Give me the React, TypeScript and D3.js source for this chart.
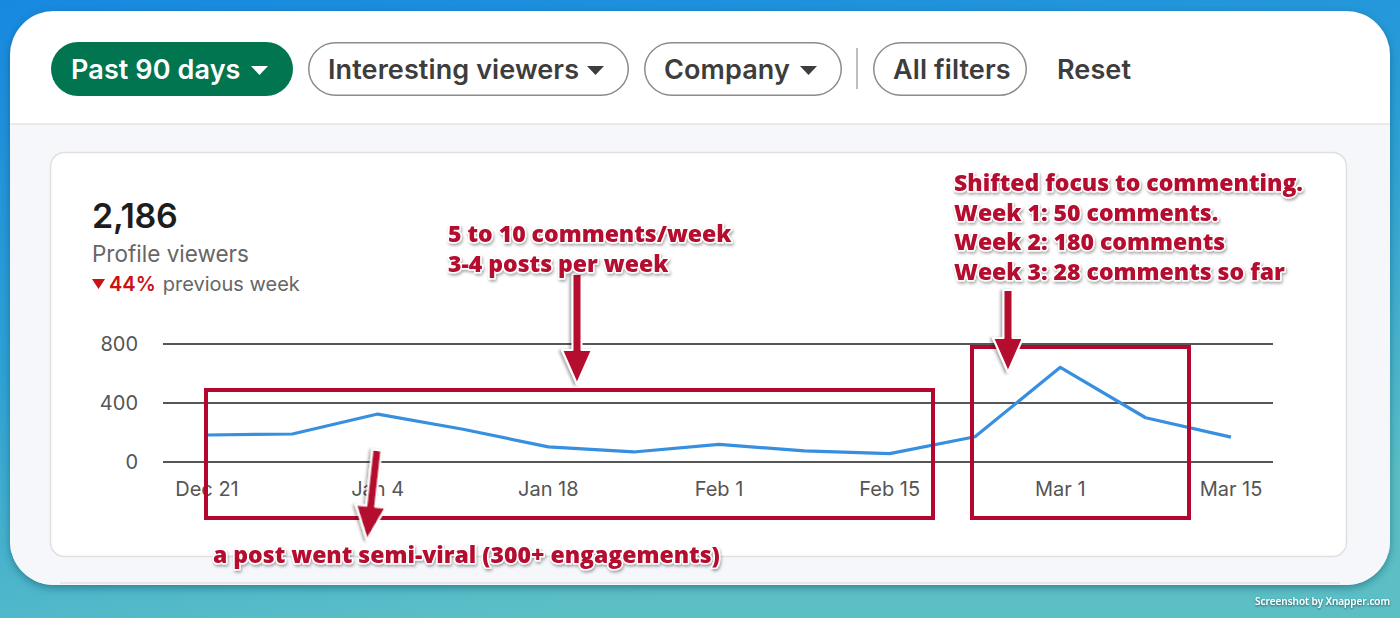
import * as d3 from "d3"

const dates = [
  "2022-12-21", "2022-12-28", "2023-01-04", "2023-01-11", "2023-01-18", "2023-01-25", "2023-02-01",
  "2023-02-08", "2023-02-15", "2023-02-22", "2023-03-01", "2023-03-08", "2023-03-15",
]
const viewers = [183, 190, 325, 222, 103, 68, 119, 75, 57, 171, 642, 300, 169]
const tickDates = ["2022-12-21", "2023-01-04", "2023-01-18", "2023-02-01", "2023-02-15", "2023-03-01", "2023-03-15"]
const yTicks = [0, 400, 800]
const filters = ["Past 90 days", "Interesting viewers", "Company", "All filters"]
const noteMiddle = ["5 to 10 comments/week", "3-4 posts per week"]
const noteRight = ["Shifted focus to commenting.", "Week 1: 50 comments.", "Week 2: 180 comments", "Week 3: 28 comments so far"]
const noteBottom = "a post went semi-viral (300+ engagements)"

const W = 1400
const H = 618
const RED = "#b4072f"
const SANS = "Inter, 'Noto Sans', sans-serif"
const NOTE = "'Open Sans', sans-serif"

const parse = d3.utcParse("%Y-%m-%d")
const points = dates.map((d, i) => ({ date: parse(d)!, value: viewers[i] }))

const x = d3
  .scaleUtc()
  .domain([parse(dates[0])!, parse(dates[dates.length - 1])!])
  .range([207, 1231])
const y = d3.scaleLinear().domain([0, 800]).range([462, 344])

const line = d3
  .line<{ date: Date; value: number }>()
  .x((d) => x(d.date))
  .y((d) => y(d.value))

const fmtTick = d3.utcFormat("%b %-d")

function Arrow({ x1, y1, x2, y2 }: { x1: number; y1: number; x2: number; y2: number }) {
  const ang = Math.atan2(y2 - y1, x2 - x1)
  const len = Math.hypot(x2 - x1, y2 - y1)
  const head = 34
  const hw = 15
  const sw = 4.5
  const deg = (ang * 180) / Math.PI
  const d = `M0,${-sw} L${len - head},${-sw} L${len - head},${-hw} L${len},0 L${len - head},${hw} L${len - head},${sw} L0,${sw} Z`
  return (
    <g transform={`translate(${x1},${y1}) rotate(${deg})`} filter="url(#noteShadow)">
      <path d={d} fill={RED} stroke="#fff" strokeWidth={2} strokeLinejoin="round" />
    </g>
  )
}

function Note({ lines, x0, y0, gap }: { lines: string[]; x0: number; y0: number; gap: number }) {
  return (
    <g filter="url(#noteShadow)">
      {lines.map((t, i) => (
        <text
          key={i}
          x={x0}
          y={y0 + i * gap}
          fontFamily={NOTE}
          fontWeight={800}
          fontSize={23}
          fill={RED}
          stroke="#fff"
          strokeWidth={3}
          strokeLinejoin="round"
          paintOrder="stroke"
        >
          {t}
        </text>
      ))}
    </g>
  )
}

export default function App() {
  const pillX = [51, 308, 644, 873]
  const pillW = [242, 321, 198, 154]
  const hasCaret = [true, true, true, false]

  return (
    <div style={{ position: "absolute", left: 0, top: 0 }}>
      <svg width={W} height={H} viewBox={`0 0 ${W} ${H}`} style={{ display: "block" }}>
        <defs>
          <linearGradient id="bg" x1="0" y1="0" x2="0.35" y2="1">
            <stop offset="0" stopColor="#1789e0" />
            <stop offset="0.55" stopColor="#2fa3d6" />
            <stop offset="1" stopColor="#5cbfc6" />
          </linearGradient>
          <filter id="cardShadow" x="-5%" y="-5%" width="110%" height="115%">
            <feDropShadow dx="0" dy="3" stdDeviation="4" floodColor="#0b3f55" floodOpacity="0.45" />
          </filter>
          <filter id="noteShadow" x="-10%" y="-30%" width="120%" height="160%">
            <feDropShadow dx="1" dy="2" stdDeviation="1.5" floodColor="#000" floodOpacity="0.35" />
          </filter>
          <filter id="wmShadow">
            <feDropShadow dx="0" dy="1" stdDeviation="0.8" floodColor="#000" floodOpacity="0.6" />
          </filter>
          <clipPath id="cardClip">
            <rect x={10} y={11} width={1380} height={574} rx={44} />
          </clipPath>
        </defs>

        <rect width={W} height={H} fill="url(#bg)" />

        {/* window card */}
        <rect x={10} y={11} width={1380} height={574} rx={44} fill="#fff" filter="url(#cardShadow)" />
        <g clipPath="url(#cardClip)">
          <rect x={10} y={124} width={1380} height={470} fill="#f5f7fb" />
          <line x1={10} x2={1390} y1={124} y2={124} stroke="#e3e3e6" strokeWidth={1.5} />
          <line x1={60} x2={1340} y1={583} y2={583} stroke="#e1e1e6" strokeWidth={1.5} />
        </g>

        {/* filter pills */}
        {filters.map((f, i) => {
          const active = i === 0
          const px = pillX[i]
          const pw = pillW[i]
          const tx = px + 20
          return (
            <g key={f}>
              <rect
                x={px + (active ? 0 : 0.75)}
                y={active ? 42 : 42.75}
                width={pw - (active ? 0 : 1.5)}
                height={active ? 54 : 52.5}
                rx={27}
                fill={active ? "#01754f" : "#fff"}
                stroke={active ? "none" : "#8c8c8c"}
                strokeWidth={1.5}
              />
              <text
                x={tx}
                y={79}
                fontFamily={SANS}
                fontWeight={600}
                fontSize={27}
                fill={active ? "#fff" : "#3d3d3d"}
                letterSpacing={0.1}
              >
                {f}
              </text>
              {hasCaret[i] && (
                <path
                  d={`M${px + pw - 42},66 l17,0 l-8.5,9 Z`}
                  fill={active ? "#fff" : "#3d3d3d"}
                />
              )}
            </g>
          )
        })}
        <line x1={857} x2={857} y1={48} y2={89} stroke="#a8a8a8" strokeWidth={1.5} />
        <text x={1057} y={79} fontFamily={SANS} fontWeight={600} fontSize={27} fill="#3d3d3d" letterSpacing={0.1}>
          Reset
        </text>

        {/* analytics card */}
        <rect x={50.5} y={152.5} width={1296} height={404} rx={14} fill="#fff" stroke="#e0e0e3" strokeWidth={1.5} />
        <text x={92} y={228} fontFamily={SANS} fontWeight={600} fontSize={34} fill="#1d1d1d" letterSpacing={-0.3}>
          2,186
        </text>
        <text x={92} y={262} fontFamily={SANS} fontWeight={400} fontSize={22.5} fill="#666">
          Profile viewers
        </text>
        <path d="M92,279 l13,0 l-6.5,10 Z" fill="#cc1016" />
        <text x={109} y={291} fontFamily={SANS} fontSize={20} fill="#cc1016" fontWeight={600}>
          44%
          <tspan fill="#666" fontWeight={400} dx={7}>
            previous week
          </tspan>
        </text>

        {/* grid + y labels */}
        {yTicks.map((t) => (
          <g key={t}>
            <line x1={163} x2={1273} y1={y(t)} y2={y(t)} stroke="#1e1e1e" strokeWidth={1.3} />
            <text x={138} y={y(t) + 7} textAnchor="end" fontFamily={SANS} fontSize={20} fill="#555">
              {t}
            </text>
          </g>
        ))}
        {tickDates.map((t) => (
          <text key={t} x={x(parse(t)!)} y={496} textAnchor="middle" fontFamily={SANS} fontSize={20} fill="#555">
            {fmtTick(parse(t)!)}
          </text>
        ))}

        {/* series */}
        <path d={line(points) || ""} fill="none" stroke="#378fe0" strokeWidth={3.2} strokeLinejoin="round" />

        {/* annotation boxes */}
        <rect x={206} y={390} width={727} height={128} fill="none" stroke={RED} strokeWidth={4} />
        <rect x={972} y={347} width={217} height={171} fill="none" stroke={RED} strokeWidth={4} />

        <Arrow x1={577} y1={274} x2={577} y2={384} />
        <Arrow x1={1008} y1={290} x2={1008} y2={372} />
        <Arrow x1={377} y1={450} x2={367} y2={540} />

        <Note lines={noteMiddle} x0={448} y0={242} gap={30} />
        <Note lines={noteRight} x0={954} y0={191} gap={29.5} />
        <Note lines={[noteBottom]} x0={213} y0={563} gap={0} />

        <text
          x={1390}
          y={605}
          textAnchor="end"
          fontFamily="'Open Sans', sans-serif"
          fontWeight={600}
          fontSize={10}
          fill="#fff"
          filter="url(#wmShadow)"
        >
          Screenshot by Xnapper.com
        </text>
      </svg>
    </div>
  )
}
